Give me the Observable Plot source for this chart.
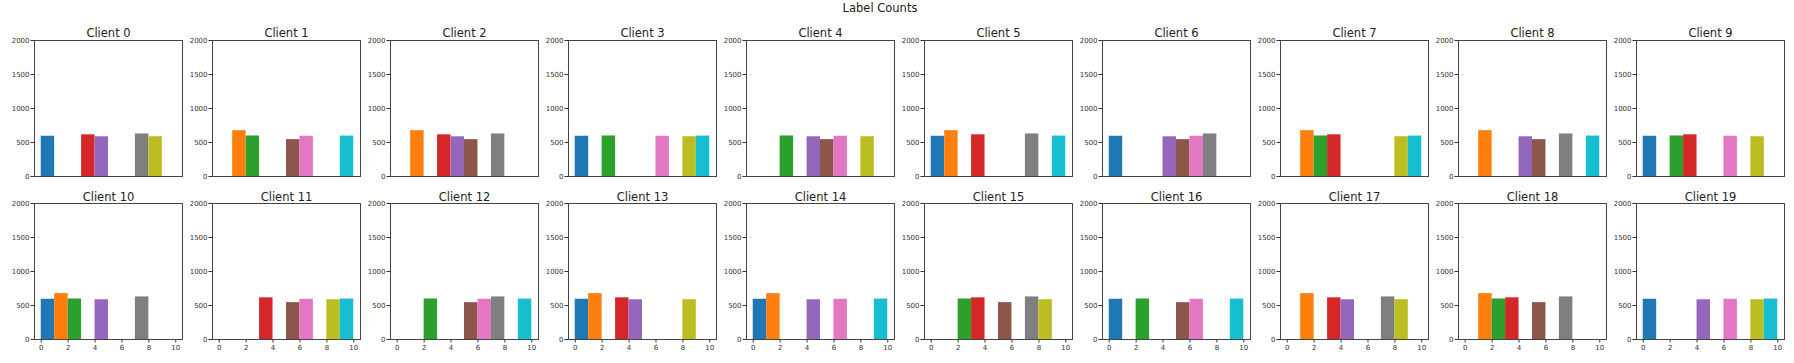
<!DOCTYPE html>
<html><head><meta charset="utf-8">
<script src="https://cdn.jsdelivr.net/npm/d3@7"></script>
<script src="https://cdn.jsdelivr.net/npm/@observablehq/plot@0.6"></script>
<style>
body{margin:0;background:#fff;font-family:"DejaVu Sans",sans-serif;}
#fig{position:relative;width:1794px;height:363px;overflow:hidden;background:#fff;}
#fig svg{position:absolute;}
#suptitle{position:absolute;left:880px;top:0px;transform:translateX(-50%);font-size:11.5px;color:#222;white-space:nowrap;line-height:16px;}
</style>
</head><body>
<div id="fig"><div id="suptitle">Label Counts</div></div>
<script>
const labels = [0,1,2,3,4,5,6,7,8,9];
const labelCounts = [592,674,596,613,584,542,592,626,585,595];
const tab10 = ["#1f77b4","#ff7f0e","#2ca02c","#d62728","#9467bd","#8c564b","#e377c2","#7f7f7f","#bcbd22","#17becf"];
const clientNames = Array.from({length:20},(_,i)=>"Client " + i);
const clientLabels = [
  [0,3,4,7,8],[1,2,5,6,9],[1,3,4,5,7],[0,2,6,8,9],[2,4,5,6,8],
  [0,1,3,7,9],[0,4,5,6,7],[1,2,3,8,9],[1,4,5,7,9],[0,2,3,6,8],
  [0,1,2,4,7],[3,5,6,8,9],[2,5,6,7,9],[0,1,3,4,8],[0,1,4,6,9],
  [2,3,5,7,8],[0,2,5,6,9],[1,3,4,7,8],[1,2,3,5,7],[0,4,6,8,9]
];
const yTicks = [0,500,1000,1500,2000];
const xTicks = [0,2,4,6,8,10];

const fig = document.getElementById("fig");
clientNames.forEach((name,i)=>{
  const row = Math.floor(i/10), col = i%10;
  const data = clientLabels[i].map(l=>({label:l, count:labelCounts[l]}));
  const chart = Plot.plot({
    width:178,
    height: row ? 176 : 160,
    marginLeft:30, marginRight:0, marginTop:20, marginBottom: row ? 20 : 4,
    style:{fontFamily:"DejaVu Sans, sans-serif", fontSize:"7px", color:"#333", background:"transparent", overflow:"visible"},
    x:{domain:[-0.5,10.5], ticks: row ? xTicks : [], tickFormat:d=>String(d), tickSize: row ? 3.5 : 0, tickPadding:2, label:null, axis: row ? "bottom" : null},
    y:{domain:[0,2000], ticks:yTicks, tickFormat:d=>String(d), tickSize:3.5, tickPadding:1.5, label:null},
    color:{type:"ordinal", domain:labels, range:tab10},
    marks:[
      Plot.rectY(data,{x1:"label", x2:d=>d.label+1, y:"count", fill:"label"}),
      Plot.frame({stroke:"#444", strokeWidth:1}),
      Plot.text([name],{text:d=>d, frameAnchor:"top", dy: row ? -11 : -12, fontSize:11.5, fill:"#222"})
    ]
  });
  chart.style.left = (4 + col*178) + "px";
  chart.style.top = (row ? 183 : 20) + "px";
  fig.appendChild(chart);
});
</script>
</body></html>
